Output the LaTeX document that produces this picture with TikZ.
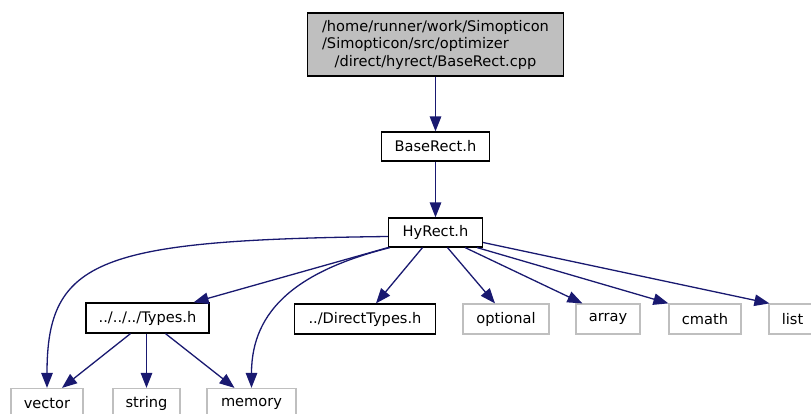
\documentclass[tikz,border=0pt]{standalone}
\usepackage{fontspec}
\setmainfont{DejaVu Sans}
\usetikzlibrary{arrows.meta,positioning,calc}
\definecolor{edgeBlue}{HTML}{191970}
\definecolor{sysGray}{HTML}{BFBFBF}

\begin{document}
\begin{tikzpicture}[x=1pt,y=-1pt,>={Triangle[length=15pt,width=11.5pt]},
  font=\fontsize{14.6}{17.5}\selectfont,
  hdr/.style={draw=black,line width=1.2pt,minimum height=29pt,inner sep=0pt},
  sys/.style={draw=sysGray,line width=1.2pt,minimum height=30pt,inner sep=0pt},
  dep/.style={->,draw=edgeBlue,line width=1.3pt}]
  \useasboundingbox (0,0) rectangle (811,414);
  \clip (0,0) rectangle (811,414);

  % project files
  \node[hdr,fill=sysGray,minimum width=256pt,minimum height=63pt,align=center] (root) at (435.5,44.5)
    {/home/runner/work/Simopticon\\
     \rlap{/Simopticon/src/optimizer}\phantom{/home/runner/work/Simopticon}\\
     /direct/hyrect/BaseRect.cpp};
  \node[hdr,minimum width=108pt] (base) at (435.5,146.5) {BaseRect.h};
  \node[hdr,minimum width=94pt] (hyrect) at (435.5,232.5) {HyRect.h};
  \node[hdr,minimum width=123pt,minimum height=30pt] (types) at (147.5,318) {../../../Types.h};
  \node[hdr,minimum width=141pt,minimum height=30pt] (direct) at (365,319) {../DirectTypes.h};

  % system headers
  \foreach \x/\y/\w/\name/\label in {
    506/319/86/optional/optional,
    608/319/64/array/array,
    705/319/72/cmath/cmath,
    792.5/319/47/list/list,
    47/403.5/72/vector/vector,
    146.5/403.5/67/string/string,
    251.5/403.5/89/memory/memory}
  {
    \node[sys,minimum width=\w] (\name) at (\x,\y) {\label};
  }

  \draw[dep] (root) -- (base);
  \draw[dep] (base) -- (hyrect);
  \draw[dep] ($(hyrect.west)+(0,4)$) .. controls ($(hyrect.west)+(-289,7.5)$) and ($(vector.north)+(0,-129)$) .. (vector.north);
  \draw[dep] (hyrect.south west) -- ($(types.north east)+(-16,0)$);
  \draw[dep] ($(hyrect.south west)+(2,0)$) .. controls ($(hyrect.south west)+(-89,23)$) and ($(memory.north)+(0,-79)$) .. (memory.north);
  \draw[dep] ($(hyrect.south)+(-13,0)$) -- ($(direct.north)+(11,0)$);
  \draw[dep] ($(hyrect.south)+(12,0)$) -- ($(optional.north)+(-11,0)$);
  \draw[dep] ($(hyrect.south east)+(-18,0)$) -- ($(array.north west)+(7,0)$);
  \draw[dep] ($(hyrect.south east)+(-6,0)$) -- (cmath.north west);
  \draw[dep] ($(hyrect.east)+(0,10)$) -- ($(list.north west)+(1,0)$);
  \draw[dep] ($(types.south)+(-17,0)$) -- ($(vector.north)+(15,0)$);
  \draw[dep] ($(types.south)+(-1,0)$) -- (string.north);
  \draw[dep] ($(types.south)+(18,0)$) -- ($(memory.north)+(-17,0)$);
\end{tikzpicture}
\end{document}
